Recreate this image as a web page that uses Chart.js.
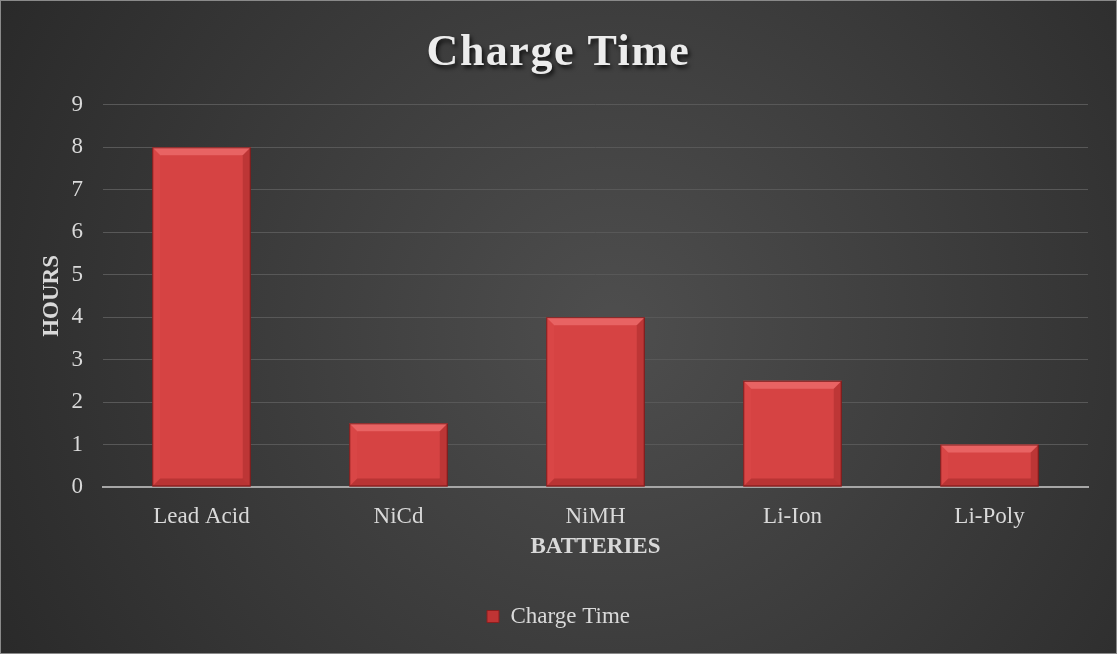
<!DOCTYPE html>
<html>
<head>
<meta charset="utf-8">
<script src="https://cdn.jsdelivr.net/npm/chart.js@4"></script>
<style>
html,body{margin:0;padding:0;background:#333;}
#wrap{width:1117px;height:654px;position:relative;}
canvas{display:block;}
</style>
</head>
<body>
<div id="wrap"><canvas id="c" width="1117" height="654"></canvas></div>
<script>
const categories = ["Lead Acid", "NiCd", "NiMH", "Li-Ion", "Li-Poly"];
const chargeTime = [8, 1.5, 4, 2.5, 1];
const seriesName = "Charge Time";
const titleText = "Charge Time";
const xTitle = "BATTERIES";
const yTitle = "HOURS";
const yMin = 0, yMax = 9, yStep = 1;

const FONT = "'Liberation Serif', 'Times New Roman', serif";
const TEXT = "#d9d9d9";

const bgPlugin = {
  id: "bg",
  beforeDraw(chart) {
    const ctx = chart.ctx, w = chart.width, h = chart.height;
    ctx.save();
    const g = ctx.createRadialGradient(w*0.55, h*0.5, 20, w*0.55, h*0.5, w*0.62);
    g.addColorStop(0, "#4d4d4d");
    g.addColorStop(1, "#2a2a2a");
    ctx.fillStyle = g;
    ctx.fillRect(0, 0, w, h);
    ctx.strokeStyle = "#8a8a8a";
    ctx.lineWidth = 1;
    ctx.strokeRect(0.5, 0.5, w-1, h-1);
    ctx.restore();
    const tb = chart.titleBlock;
    if (tb && !tb._patched) {
      const orig = tb.draw.bind(tb);
      tb.draw = function() {
        const c = chart.ctx;
        c.save();
        c.shadowColor = "rgba(0,0,0,0.75)";
        c.shadowOffsetX = 2; c.shadowOffsetY = 3; c.shadowBlur = 4;
        if ("letterSpacing" in c) c.letterSpacing = "1.5px";
        orig();
        c.restore();
      };
      tb._patched = true;
    }
  }
};

const bevelPlugin = {
  id: "bevel",
  afterDatasetsDraw(chart) {
    const ctx = chart.ctx;
    const meta = chart.getDatasetMeta(0);
    meta.data.forEach(bar => {
      const x0 = bar.x - bar.width/2, x1 = bar.x + bar.width/2;
      const y0 = bar.y, y1 = bar.base;
      const b = 8;
      ctx.save();
      ctx.beginPath();
      ctx.moveTo(x0, y0); ctx.lineTo(x1, y0); ctx.lineTo(x1-b, y0+b); ctx.lineTo(x0+b, y0+b); ctx.closePath();
      ctx.fillStyle = "rgba(255,140,140,0.45)"; ctx.fill();
      ctx.beginPath();
      ctx.moveTo(x0, y0); ctx.lineTo(x0+b, y0+b); ctx.lineTo(x0+b, y1-b); ctx.lineTo(x0, y1); ctx.closePath();
      ctx.fillStyle = "rgba(255,120,120,0.08)"; ctx.fill();
      ctx.beginPath();
      ctx.moveTo(x1, y0); ctx.lineTo(x1-b, y0+b); ctx.lineTo(x1-b, y1-b); ctx.lineTo(x1, y1); ctx.closePath();
      ctx.fillStyle = "rgba(80,0,0,0.18)"; ctx.fill();
      ctx.beginPath();
      ctx.moveTo(x0, y1); ctx.lineTo(x1, y1); ctx.lineTo(x1-b, y1-b); ctx.lineTo(x0+b, y1-b); ctx.closePath();
      ctx.fillStyle = "rgba(80,0,0,0.22)"; ctx.fill();
      ctx.strokeStyle = "rgba(90,10,10,0.7)"; ctx.lineWidth = 1;
      ctx.strokeRect(x0+0.5, y0+0.5, bar.width-1, y1-y0-1);
      ctx.restore();
    });
  }
};

new Chart(document.getElementById("c"), {
  type: "bar",
  data: {
    labels: categories,
    datasets: [{
      label: seriesName,
      data: chargeTime,
      backgroundColor: "#d64343",
      borderWidth: 0,
      categoryPercentage: 1,
      barPercentage: 0.5
    }]
  },
  options: {
    responsive: false,
    animation: false,
    devicePixelRatio: 1,
    layout: { padding: { left: 0, right: 0, top: 0, bottom: 16 } },
    plugins: {
      title: {
        display: true,
        text: titleText,
        color: "#ececec",
        font: { family: FONT, size: 44, weight: "bold" },
        padding: { top: 27, bottom: 25 }
      },
      legend: {
        position: "bottom",
        labels: {
          color: TEXT,
          font: { family: FONT, size: 23 },
          boxWidth: 12, boxHeight: 12,
          padding: 10,
          generateLabels(chart) {
            return [{ text: seriesName, fillStyle: "#c03434", strokeStyle: "#8a1f1f", lineWidth: 1, fontColor: TEXT, datasetIndex: 0 }];
          }
        }
      },
      tooltip: { enabled: false }
    },
    scales: {
      x: {
        grid: { display: false, drawTicks: false },
        border: { display: true, color: "#a6a6a6", width: 2 },
        ticks: { color: TEXT, font: { family: FONT, size: 23 }, padding: 16 },
        title: { display: true, text: xTitle, color: TEXT, font: { family: FONT, size: 23, weight: "bold" }, padding: { top: 0, bottom: 34 } },
        afterFit(s) { s.height = 108; }
      },
      y: {
        min: yMin, max: yMax,
        grid: { color: "#585858", lineWidth: 1, drawTicks: false },
        border: { display: false },
        ticks: { stepSize: yStep, color: TEXT, font: { family: FONT, size: 23 }, padding: 20 },
        title: { display: true, text: yTitle, color: TEXT, font: { family: FONT, size: 23, weight: "bold" }, padding: { top: 38, bottom: 0 } },
        afterFit(s) { s.width = 103; }
      },
      yRight: {
        position: "right",
        display: true,
        grid: { display: false, drawTicks: false },
        border: { display: false },
        ticks: { display: false },
        afterFit(s) { s.width = 29; }
      }
    }
  },
  plugins: [bgPlugin, bevelPlugin]
});
</script>
</body>
</html>
